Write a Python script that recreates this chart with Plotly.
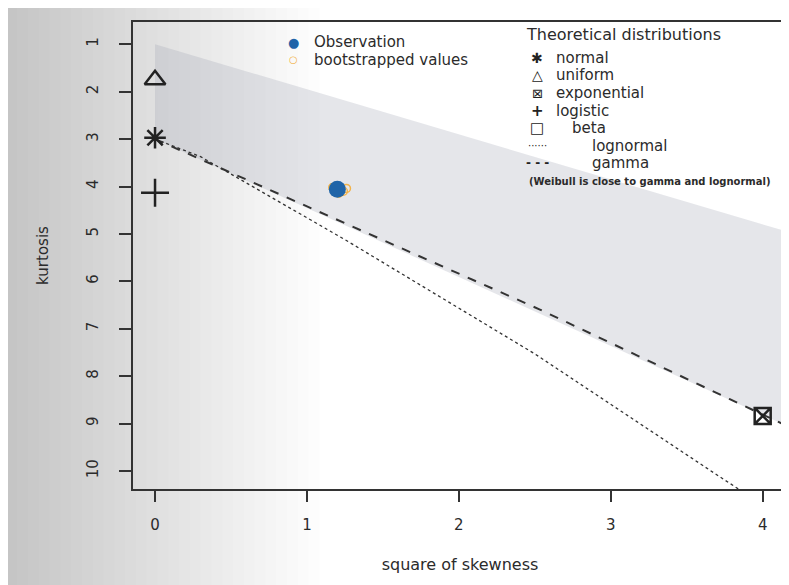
import plotly.graph_objects as go

# Cullen and Frey graph
obs_skew2 = [1.20]
obs_kurt = [4.06]

boot_skew2 = [1.17, 1.24, 1.21, 1.26, 1.19]
boot_kurt = [4.02, 4.10, 4.14, 4.04, 4.12]

normal_pt = (0, 2.97)
uniform_pt = (0, 1.75)
logistic_pt = (0, 4.13)
expo_pt = (4, 8.84)

# beta region (upper bound and gamma line)
beta_x = [0, 4.16, 4.16, 0]
beta_y = [1, 4.95, 9.05, 3]

gamma_x = [0, 2.53, 3.78, 4.16]
gamma_y = [3, 6.59, 8.48, 9.05]

lognorm_x = [0, 0.30, 1.25, 2.50, 3.74, 3.85]
lognorm_y = [3, 3.37, 5.12, 7.53, 10.17, 10.40]

FONT = "DejaVu Sans, Verdana, sans-serif"
TXT = "#2b2b2b"

fig = go.Figure()

fig.add_trace(go.Scatter(x=beta_x, y=beta_y, fill="toself", mode="lines", name="beta",
                         line=dict(width=0), fillcolor="rgba(160,165,178,0.28)", hoverinfo="skip"))

fig.add_trace(go.Scatter(x=lognorm_x, y=lognorm_y, mode="lines", name="lognormal",
                         line=dict(color="#333", width=1.3, dash="dot")))
fig.add_trace(go.Scatter(x=gamma_x, y=gamma_y, mode="lines", name="gamma",
                         line=dict(color="#333", width=2, dash="dash")))

fig.add_trace(go.Scatter(x=boot_skew2, y=boot_kurt, mode="markers", name="bootstrapped values",
                         marker=dict(symbol="circle-open", size=8, color="#f2b34a", line=dict(width=1.5))))
fig.add_trace(go.Scatter(x=obs_skew2, y=obs_kurt, mode="markers", name="Observation",
                         marker=dict(symbol="circle", size=17, color="#1f64a8")))

theo = [("normal", normal_pt, "asterisk-open", 18),
        ("uniform", uniform_pt, "triangle-up-open", 18),
        ("exponential", expo_pt, "square-x-open", 16),
        ("logistic", logistic_pt, "cross-thin-open", 20)]
for name, pt, sym, sz in theo:
    fig.add_trace(go.Scatter(x=[pt[0]], y=[pt[1]], mode="markers", name=name,
                             marker=dict(symbol=sym, size=sz, color="#222", line=dict(width=2.5, color="#222"))))

fig.update_traces(showlegend=False)


# R style legends written as text, screen pixels -> paper coords
def px(x):
    return (x - 133) / 654


def py(y):
    return 1 - (y - 22) / 467


ann = []


def label(x, y, text, size=15, color=TXT, anchor="left", family=FONT):
    ann.append(dict(text=text, xref="paper", yref="paper", x=px(x), y=py(y), xanchor=anchor,
                    yanchor="middle", showarrow=False, font=dict(size=size, color=color, family=family)))


label(293, 42, "●", 13, "#1f64a8", "center")
label(312, 42, "Observation", 15)
label(293, 60, "○", 10, "#f2b34a", "center")
label(312, 60, "bootstrapped values", 15)

label(524, 35, "Theoretical distributions", 16)
legend2 = [("✱", "normal", 554, 14), ("△", "uniform", 554, 14), ("⊠", "exponential", 554, 13),
           ("<b>+</b>", "logistic", 554, 15), ("□", "beta", 570, 15),
           ("······", "lognormal", 590, 10), ("<b>- - -</b>", "gamma", 590, 12)]
for i, (sym, name, tx, ssize) in enumerate(legend2):
    y = 58 + i * 17.5
    label(537, y, sym, ssize, "#222", "center")
    label(tx, y, name, 15)
label(527, 181, "<b>(Weibull is close to gamma and lognormal)</b>", 10, TXT)

# soft grey shading of the scanned page on the left
shapes = []
for k in range(1, 31):
    shapes.append(dict(type="rect", xref="paper", yref="paper", x0=-0.21, x1=-0.21 + k * 0.0165,
                       y0=-0.3, y1=1.06, line=dict(width=0),
                       fillcolor="rgba(105,115,130,0.016)", layer="below"))

# the page body adds 8px on top/left, margins compensate for it
fig.update_layout(
    width=789, height=585,
    margin=dict(l=125, r=10, t=14, b=104),
    paper_bgcolor="white", plot_bgcolor="rgba(0,0,0,0)",
    font=dict(family=FONT, size=15, color=TXT),
    shapes=shapes, annotations=ann,
    xaxis=dict(range=[-0.145, 4.16], tickvals=[0, 1, 2, 3, 4], showgrid=False, zeroline=False,
               showline=True, linecolor="#333", linewidth=1.5, mirror=True, automargin=False,
               ticks="outside", ticklen=11, tickwidth=1.5, tickcolor="#333",
               ticklabelstandoff=10, tickfont=dict(size=15),
               title=dict(text="square of skewness", font=dict(size=16), standoff=26)),
    yaxis=dict(range=[10.38, 0.53], tickvals=list(range(1, 11)), showgrid=False, zeroline=False,
               showline=True, linecolor="#333", linewidth=1.5, mirror=True, automargin=False,
               ticks="outside", ticklen=12, tickwidth=1.5, tickcolor="#333", tickangle=-90,
               ticklabelstandoff=15, tickfont=dict(size=15),
               title=dict(text="kurtosis", font=dict(size=15), standoff=32)),
)

fig.write_html("out.html")
